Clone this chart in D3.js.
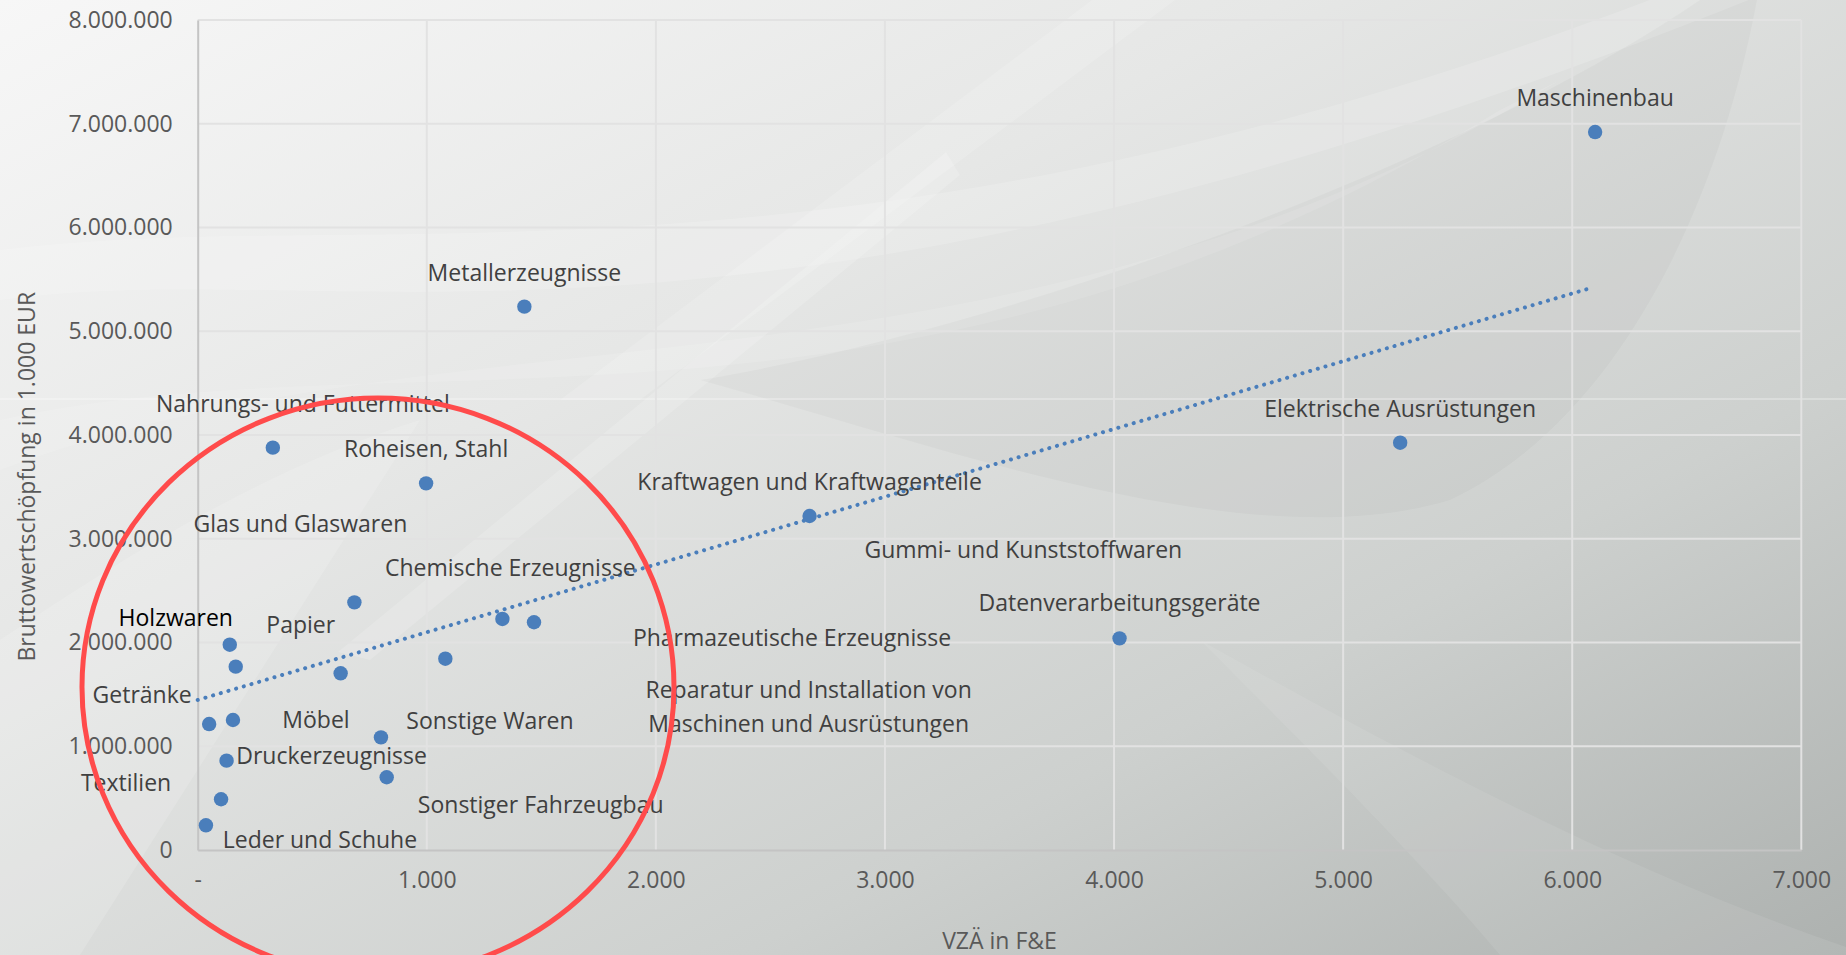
<!DOCTYPE html>
<html>
<head>
<meta charset="utf-8">
<script src="https://cdn.jsdelivr.net/npm/d3@7"></script>
<style>
html, body { margin: 0; padding: 0; overflow: hidden; background: #e4e5e4; }
svg { display: block; font-family: "Open Sans", sans-serif; }
</style>
</head>
<body>
<script>

// Wirtschaftszweige, VZÄ in F&E (x) und Bruttowertschöpfung in 1.000 EUR (y)
const branchen = [
    'Maschinenbau', 'Metallerzeugnisse', 'Elektrische Ausrüstungen',
    'Nahrungs- und Futtermittel', 'Roheisen, Stahl', 'Kraftwagen und Kraftwagenteile',
    'Datenverarbeitungsgeräte', 'Glas und Glaswaren', 'Chemische Erzeugnisse',
    'Pharmazeutische Erzeugnisse', 'Gummi- und Kunststoffwaren', 'Holzwaren',
    'Papier', 'Reparatur und Installation von\nMaschinen und Ausrüstungen', 'Getränke',
    'Möbel', 'Sonstige Waren', 'Druckerzeugnisse',
    'Sonstiger Fahrzeugbau', 'Textilien', 'Leder und Schuhe'
];
const vzae = [6100, 1426, 5249, 328, 997, 2671, 4024, 684, 1330, 1468, 1081,
              140, 166, 624, 50, 154, 800, 126, 825, 102, 36];
const bws = [6920000, 5237000, 3926000, 3878000, 3534000, 3219000, 2040000,
             2387000, 2227000, 2195000, 1844000, 1979000, 1767000, 1703000,
             1214000, 1253000, 1086000, 861000, 701000, 489000, 238000];

const xTicks = [0, 1000, 2000, 3000, 4000, 5000, 6000, 7000];
const yTicks = [0, 1000000, 2000000, 3000000, 4000000, 5000000, 6000000, 7000000, 8000000];

const trendVzae = [0, 6092];
const trendBws = [1446000, 5424000];

// Lage der Beschriftungen relativ zum Punkt, in px
const labelOffsets = [
    [0, -26], [0, -26], [0, -26], [30, -36], [0, -26], [0, -26], [0, -27],
    [-54, -70], [8, -43], [258, 24], [578, -101], [-54, -19], [65, -34],
    [468, 25], [-67, -21], [83, 8], [109, -8], [105, 3], [154, 36],
    [-95, -8], [114, 23]
];

const width = 1846;
const height = 955;
const plotLeft = 197.7, plotRight = 1801.3, plotTop = 20, plotBottom = 850;

const de = d3.formatLocale({ decimal: ',', thousands: '.', grouping: [3], currency: ['', ' €'] });
const fmt = de.format(',d');

const xScale = d3.scaleLinear().domain([0, 7000]).range([plotLeft, plotRight]);
const yScale = d3.scaleLinear().domain([0, 8000000]).range([plotBottom, plotTop]);

const svg = d3.select('body')
    .append('svg')
    .attr('width', width)
    .attr('height', height);

// Hintergrund
const defs = svg.append('defs');
const bg = defs.append('linearGradient')
    .attr('id', 'bg')
    .attr('x1', '0').attr('y1', '0')
    .attr('x2', '1').attr('y2', '1');
bg.append('stop').attr('offset', '0').attr('stop-color', '#f7f7f7');
bg.append('stop').attr('offset', '0.35').attr('stop-color', '#e6e7e6');
bg.append('stop').attr('offset', '0.7').attr('stop-color', '#cdd0ce');
bg.append('stop').attr('offset', '1').attr('stop-color', '#adb1af');

svg.append('rect')
    .attr('width', width)
    .attr('height', height)
    .attr('fill', 'url(#bg)');

const swoosh = svg.append('g').attr('fill', '#ffffff');
swoosh.append('path')
    .attr('d', 'M0,300 C350,250 750,420 1846,-40 L1846,-80 C900,330 400,200 0,250 Z')
    .attr('opacity', 0.16);
swoosh.append('path')
    .attr('d', 'M0,420 C400,330 900,480 1500,110 L1560,80 C1000,420 450,300 0,470 Z')
    .attr('opacity', 0.12);
swoosh.append('path')
    .attr('d', 'M338,652 L946,152 L960,175 L370,660 Z')
    .attr('opacity', 0.16);
swoosh.append('path')
    .attr('d', 'M560,400 L1092,0 L1175,0 L640,400 Z')
    .attr('opacity', 0.15);
swoosh.append('path')
    .attr('d', 'M0,955 L0,640 C120,560 260,470 420,420 L80,955 Z')
    .attr('opacity', 0.15);
swoosh.append('path')
    .attr('d', 'M1200,640 C1450,780 1650,880 1846,947 L1846,955 L1500,955 C1420,860 1300,740 1200,640 Z')
    .attr('opacity', 0.08);
// dunklere Linse rechts oben
svg.append('path')
    .attr('d', 'M700,380 C1000,330 1450,170 1700,0 L1757,0 C1720,200 1620,420 1450,500 C1250,560 950,450 700,380 Z')
    .attr('fill', '#000000')
    .attr('opacity', 0.025);
svg.append('line')
    .attr('x1', 0).attr('x2', width)
    .attr('y1', 399).attr('y2', 399)
    .attr('stroke', '#ffffff')
    .attr('stroke-opacity', 0.55)
    .attr('stroke-width', 1);

// Gitternetz
svg.append('g')
    .selectAll('line')
    .data(yTicks.slice(1))
    .enter()
    .append('line')
    .attr('x1', plotLeft).attr('x2', plotRight)
    .attr('y1', (d) => yScale(d)).attr('y2', (d) => yScale(d))
    .attr('stroke', '#e2e2e2')
    .attr('stroke-width', 2);

svg.append('g')
    .selectAll('line')
    .data(xTicks.slice(1))
    .enter()
    .append('line')
    .attr('x1', (d) => xScale(d)).attr('x2', (d) => xScale(d))
    .attr('y1', plotTop).attr('y2', plotBottom)
    .attr('stroke', '#e2e2e2')
    .attr('stroke-width', 2);

// Achsen
const xAxis = d3.axisBottom(xScale)
    .tickValues(xTicks)
    .tickSize(0)
    .tickPadding(22)
    .tickFormat((d) => d === 0 ? '-' : fmt(d));

const yAxis = d3.axisLeft(yScale)
    .tickValues(yTicks)
    .tickSize(0)
    .tickPadding(25)
    .tickFormat((d) => fmt(d));

const gx = svg.append('g')
    .attr('id', 'x-axis')
    .attr('transform', 'translate(0,' + plotBottom + ')')
    .call(xAxis);

const gy = svg.append('g')
    .attr('id', 'y-axis')
    .attr('transform', 'translate(' + plotLeft + ',0)')
    .call(yAxis);

[gx, gy].forEach((g) => {
    g.select('.domain').attr('stroke', '#c4c4c4').attr('stroke-width', 2);
    g.selectAll('text')
        .attr('fill', '#595959')
        .style('font-size', '23px')
        .style('font-family', '"Open Sans", sans-serif');
});

// Trendlinie
svg.append('line')
    .attr('x1', xScale(trendVzae[0])).attr('y1', yScale(trendBws[0]))
    .attr('x2', xScale(trendVzae[1])).attr('y2', yScale(trendBws[1]))
    .attr('stroke', '#4a7ebb')
    .attr('stroke-width', 4)
    .attr('stroke-linecap', 'round')
    .attr('stroke-dasharray', '0.1 7.9');

// Punkte
svg.append('g')
    .selectAll('circle')
    .data(branchen)
    .enter()
    .append('circle')
    .attr('class', 'dot')
    .attr('cx', (d, i) => xScale(vzae[i]))
    .attr('cy', (d, i) => yScale(bws[i]))
    .attr('r', 7.2)
    .style('fill', '#4a7ebb');

// Datenbeschriftungen
const labels = svg.append('g')
    .selectAll('text')
    .data(branchen)
    .enter()
    .append('text')
    .attr('x', (d, i) => xScale(vzae[i]) + labelOffsets[i][0])
    .attr('y', (d, i) => yScale(bws[i]) + labelOffsets[i][1])
    .attr('text-anchor', 'middle')
    .attr('fill', (d) => d === 'Holzwaren' ? '#000000' : '#404040')
    .style('font-size', '23px');

labels.each(function(d, i) {
    const el = d3.select(this);
    const x0 = xScale(vzae[i]) + labelOffsets[i][0];
    d.split('\n').forEach((line, k) => {
        el.append('tspan')
            .attr('x', x0)
            .attr('dy', k === 0 ? 0 : 33.4)
            .text(line);
    });
});

// Achsentitel
svg.append('text')
    .attr('x', (plotLeft + plotRight) / 2)
    .attr('y', 949)
    .attr('text-anchor', 'middle')
    .attr('fill', '#595959')
    .style('font-size', '23px')
    .text('VZÄ in F&E');

svg.append('text')
    .attr('transform', 'translate(35,' + 476.7 + ') rotate(-90)')
    .attr('text-anchor', 'middle')
    .attr('fill', '#595959')
    .style('font-size', '23px')
    .text('Bruttowertschöpfung in 1.000 EUR');

// roter Kreis um die Gruppe links unten
svg.append('ellipse')
    .attr('cx', xScale(787))
    .attr('cy', yScale(1571000))
    .attr('rx', 296)
    .attr('ry', 289)
    .attr('fill', 'none')
    .attr('stroke', '#ff4b4b')
    .attr('stroke-width', 5);

</script>
</body>
</html>
